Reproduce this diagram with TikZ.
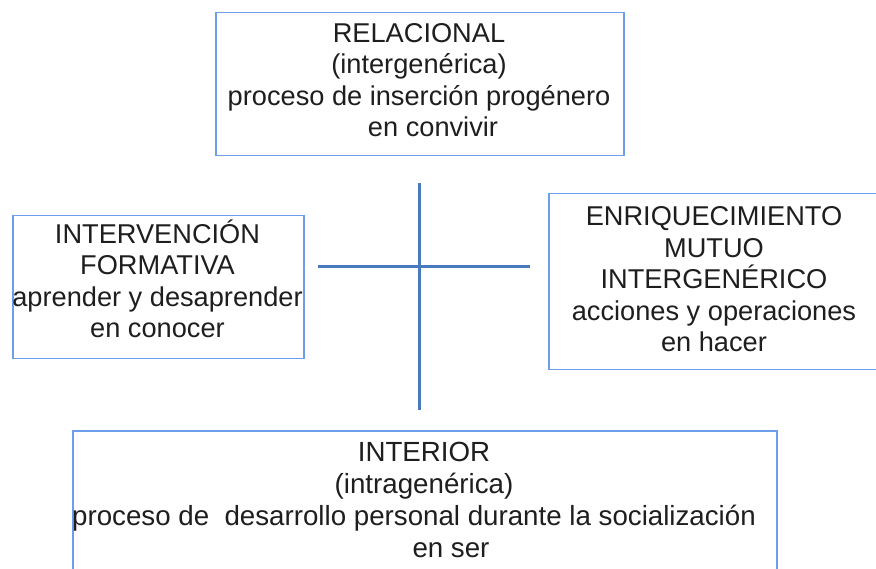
\documentclass[tikz,border=0pt]{standalone}
\usepackage{fontspec}
\setmainfont{Liberation Sans}
\definecolor{boxblue}{RGB}{109,158,235}
\definecolor{crossblue}{RGB}{74,122,190}
\definecolor{textgray}{RGB}{30,30,30}
\begin{document}
\begin{tikzpicture}[x=1pt,y=-1pt,
  boxstyle/.style={draw=boxblue, line width=1.5pt, rectangle, inner sep=0pt, anchor=north west},
  txt/.style={align=center, inner sep=0pt, anchor=base, text=textgray, font=\fontsize{27.2}{31.6}\selectfont},
  bigtxt/.style={txt, font=\fontsize{27.7}{31.7}\selectfont},
  crossline/.style={draw=crossblue, line width=3pt}]
\useasboundingbox (0,0) rectangle (876,569);
\fill[white] (0,0) rectangle (876,569);
% boxes
\node[boxstyle, minimum width=408pt, minimum height=143pt] (relbox) at (215,12) {};
\node[boxstyle, minimum width=291pt, minimum height=143pt] (intbox) at (12,215) {};
\node[boxstyle, minimum width=332pt, minimum height=176pt] (enrbox) at (548,193) {};
\node[boxstyle, minimum width=704pt, minimum height=160pt] (inbox) at (72,430) {};
% texts (anchor = baseline of last line)
\node[txt] (relT) at (419,137) {RELACIONAL\\(intergenérica)\\proceso de inserción progénero\\\hspace*{28pt}en convivir};
\node[txt] (intT) at (157.5,338) {INTERVENCIÓN\\FORMATIVA\\aprender y desaprender\\en conocer};
\node[txt] (enrT) at (714,352) {ENRIQUECIMIENTO\\MUTUO\\INTERGENÉRICO\\acciones y operaciones\\en hacer};
\node[bigtxt] (inT) at (424,557) {INTERIOR\\(intragenérica)\\proceso de \ desarrollo personal durante la socialización\rule{20pt}{0pt}\\\hspace*{54pt}en ser};
% cross
\coordinate (vtop) at (419,183);
\coordinate (vbot) at (419,410);
\coordinate (hleft) at (318,267);
\coordinate (hright) at (530,267);
\draw[crossline] (vtop) -- (vbot);
\draw[crossline] (hleft) -- (hright);
\end{tikzpicture}
\end{document}
